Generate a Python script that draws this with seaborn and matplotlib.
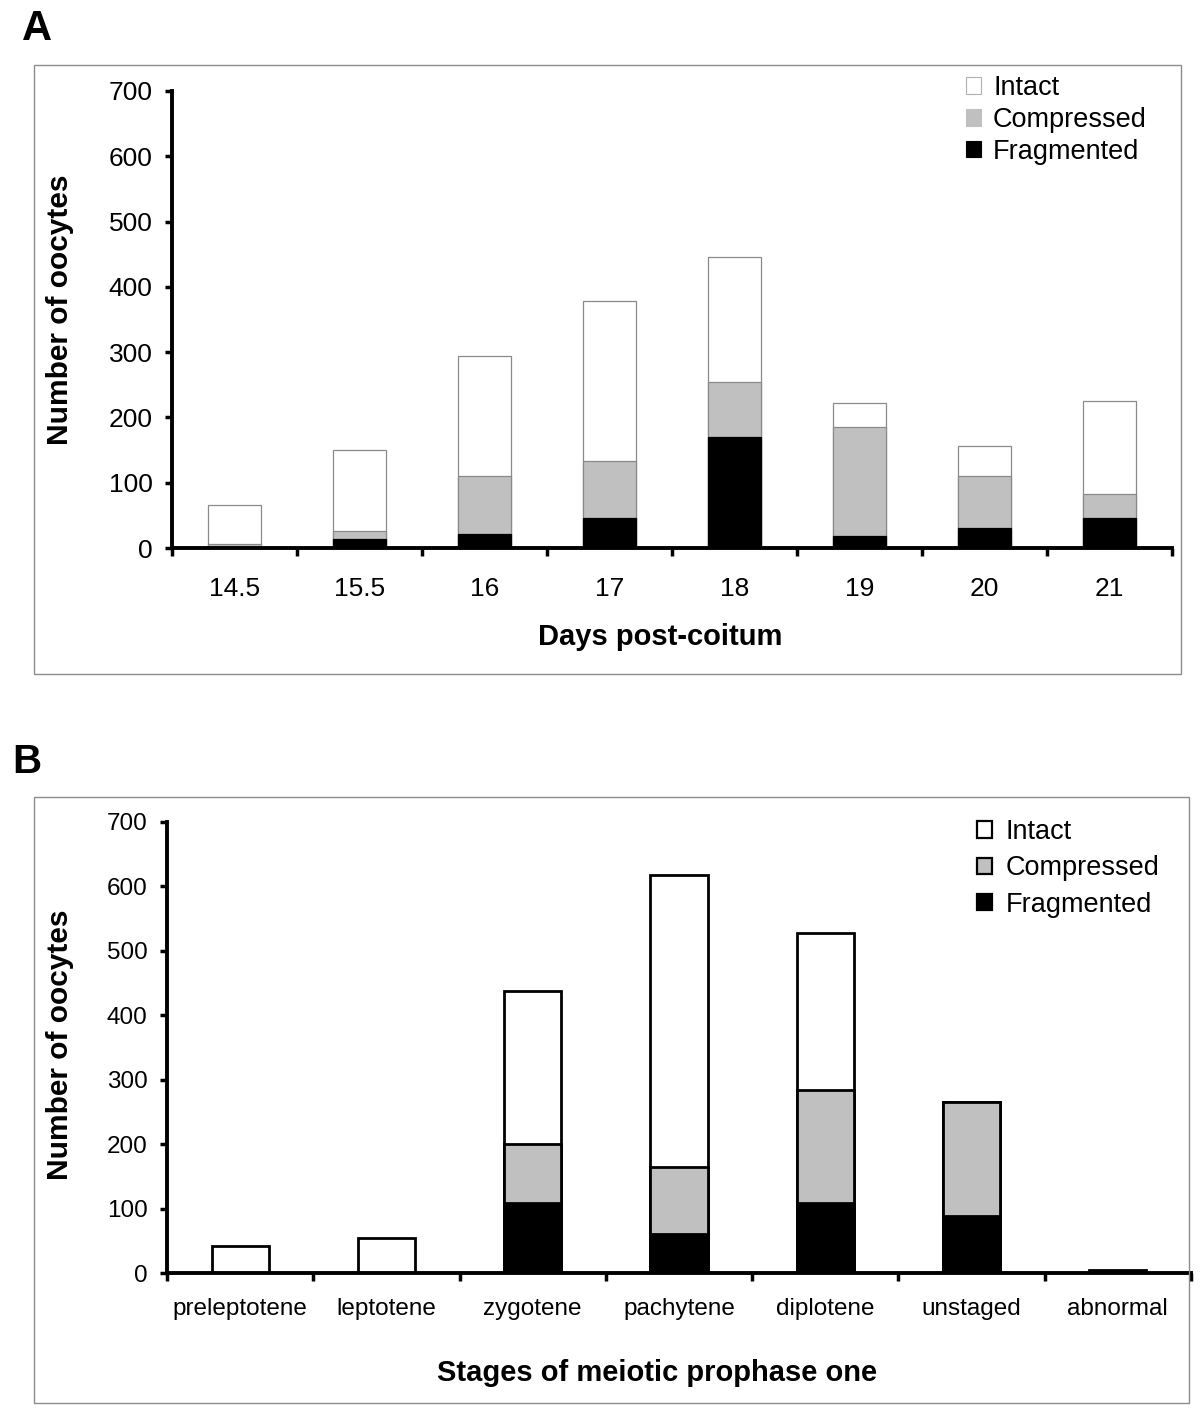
import numpy as np
import pandas as pd
import seaborn as sns
import matplotlib.pyplot as plt
from matplotlib.patches import Patch, Rectangle

# Panel A: oocytes by days post-coitum
days = ['14.5', '15.5', '16', '17', '18', '19', '20', '21']
days_fragmented = [2, 14, 22, 46, 170, 18, 30, 46]
days_compressed = [4, 12, 88, 87, 84, 167, 80, 36]
days_intact = [60, 124, 184, 245, 192, 37, 47, 143]

# Panel B: oocytes by stage of meiotic prophase one
stages = ['preleptotene', 'leptotene', 'zygotene', 'pachytene', 'diplotene', 'unstaged', 'abnormal']
stage_fragmented = [0, 0, 109, 60, 109, 88, 0]
stage_compressed = [0, 0, 91, 105, 175, 178, 0]
stage_intact = [42, 55, 237, 452, 243, 0, 5]

legend_labels = ['Intact', 'Compressed', 'Fragmented']

sns.set_style('ticks')
plt.rcParams['font.family'] = ['Liberation Sans', 'DejaVu Sans']
plt.rcParams['text.color'] = 'black'
plt.rcParams['xtick.color'] = 'black'
plt.rcParams['ytick.color'] = 'black'
plt.rcParams['axes.labelcolor'] = 'black'

W, H = 1200, 1414
fig = plt.figure(figsize=(12, 14.14), dpi=100)


def fx(px):
    return px / W


def fy(py):
    return 1 - py / H


def stacked(ax, cats, frag, comp, intact, width, edge, lw):
    df = pd.DataFrame({'cat': cats, 'frag': frag, 'comp': comp, 'intact': intact})
    df['lower'] = df['frag'] + df['comp']
    df['total'] = df['lower'] + df['intact']
    # empty segments should not draw an outline over the bar behind
    df[['lower', 'frag']] = df[['lower', 'frag']].replace(0, np.nan)
    # draw the cumulative totals back to front to get stacked bars
    for col, c, ec in [('total', 'white', edge), ('lower', '#c0c0c0', edge), ('frag', 'black', 'black')]:
        sns.barplot(data=df, x='cat', y=col, order=cats, color=c, saturation=1,
                    width=width, edgecolor=ec, linewidth=lw, ax=ax)


def style(ax, cats, fs, xpad):
    n = len(cats)
    ax.set_xlim(-0.5, n - 0.5)
    ax.set_ylim(0, 700)
    ax.set_yticks(range(0, 701, 100))
    ax.set_xticks(np.arange(n + 1) - 0.5)
    ax.set_xticklabels([])
    ax.set_xticks(range(n), minor=True)
    ax.set_xticklabels(cats, minor=True)
    ax.tick_params(axis='x', which='major', bottom=True, direction='out', length=6, width=2.5, color='black')
    ax.tick_params(axis='x', which='minor', bottom=True, length=0, pad=xpad, labelsize=fs)
    ax.tick_params(axis='y', left=True, direction='out', length=5, width=2.5, pad=9, labelsize=fs, color='black')
    ax.set_xlabel('')
    ax.set_ylabel('')
    for s in ['top', 'right']:
        ax.spines[s].set_visible(False)
    for s in ['left', 'bottom']:
        ax.spines[s].set_linewidth(2.8)
        ax.spines[s].set_color('black')


# ---- panel A ----
axA = fig.add_axes([fx(172), fy(548), fx(1172) - fx(172), fy(91) - fy(548)])
stacked(axA, days, days_fragmented, days_compressed, days_intact, 0.42, '#8a8a8a', 0.9)
style(axA, days, 19, 21)
handlesA = [Patch(fc='white', ec='#b0b0b0', lw=0.8), Patch(fc='#c0c0c0', ec='#c0c0c0', lw=0.8),
            Patch(fc='black', ec='black', lw=0.8)]
fig.legend(handlesA, legend_labels, loc='upper left', bbox_to_anchor=(fx(966), fy(75)),
           frameon=False, fontsize=19.5, handlelength=0.55, handleheight=0.55,
           handletextpad=0.45, labelspacing=0.22, borderpad=0, borderaxespad=0)

fig.text(fx(660), fy(637), 'Days post-coitum', ha='center', va='center', fontsize=21, fontweight='bold')
fig.text(fx(60), fy(310), 'Number of oocytes', ha='center', va='center', rotation=90, fontsize=21.5, fontweight='bold')
fig.text(fx(22), fy(29), 'A', ha='left', va='center', fontsize=30, fontweight='bold')
fig.add_artist(Rectangle((fx(34), fy(674)), fx(1181) - fx(34), fy(65) - fy(674), fill=False,
                         edgecolor='#8c8c8c', lw=1, transform=fig.transFigure))

# ---- panel B ----
axB = fig.add_axes([fx(167), fy(1273), fx(1191) - fx(167), fy(822) - fy(1273)])
stacked(axB, stages, stage_fragmented, stage_compressed, stage_intact, 0.39, 'black', 2.0)
style(axB, stages, 17.5, 18)
handlesB = [Patch(fc='white', ec='black', lw=1.6), Patch(fc='#c0c0c0', ec='black', lw=1.6),
            Patch(fc='black', ec='black', lw=1.6)]
fig.legend(handlesB, legend_labels, loc='upper left', bbox_to_anchor=(fx(977), fy(819)),
           frameon=False, fontsize=19.5, handlelength=0.55, handleheight=0.55,
           handletextpad=0.5, labelspacing=0.38, borderpad=0, borderaxespad=0)

fig.text(fx(657), fy(1373), 'Stages of meiotic prophase one', ha='center', va='center', fontsize=21, fontweight='bold')
fig.text(fx(60), fy(1045), 'Number of oocytes', ha='center', va='center', rotation=90, fontsize=21.5, fontweight='bold')
fig.text(fx(12), fy(762), 'B', ha='left', va='center', fontsize=29, fontweight='bold')
fig.add_artist(Rectangle((fx(34), fy(1403)), fx(1189) - fx(34), fy(797) - fy(1403), fill=False,
                         edgecolor='#8c8c8c', lw=1, transform=fig.transFigure))

fig.savefig('out.png', dpi=100, facecolor='white')
